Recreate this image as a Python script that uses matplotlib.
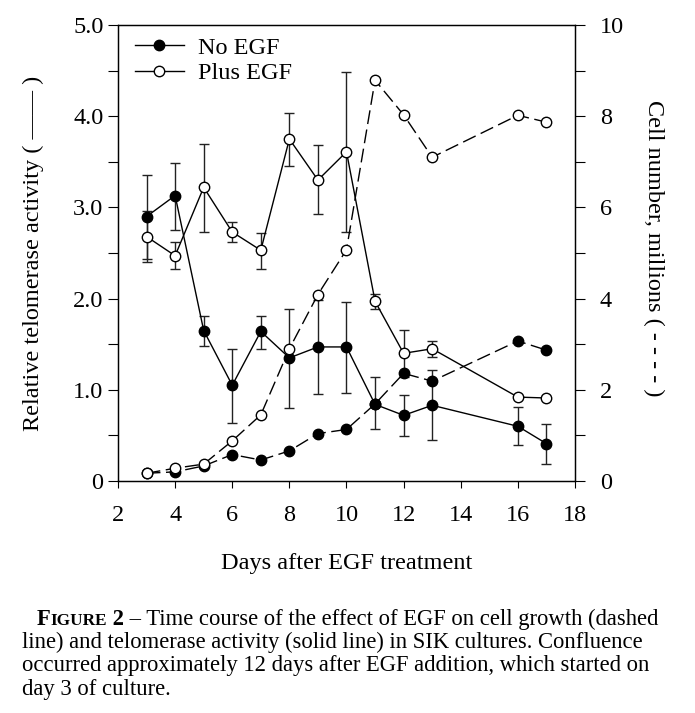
import numpy as np
import matplotlib
matplotlib.use("Agg")
import matplotlib.pyplot as plt
from matplotlib.ticker import MultipleLocator, FuncFormatter
from matplotlib.lines import Line2D

plt.rcParams['font.family'] = ['Liberation Serif', 'DejaVu Serif']

days = [3, 4, 5, 6, 7, 8, 9, 10, 11, 12, 13, 16, 17]

# telomerase activity (left axis), with error bar limits
tel_no = [2.90, 3.13, 1.65, 1.05, 1.64, 1.35, 1.47, 1.47, 0.84, 0.72, 0.83, 0.60, 0.41]
tel_no_hi = [3.35, 3.49, 1.81, 1.45, 1.81, 1.89, 1.99, 1.96, 1.14, 0.94, 1.22, 0.81, 0.62]
tel_no_lo = [2.43, 2.75, 1.48, 0.64, 1.45, 0.80, 0.95, 0.97, 0.57, 0.49, 0.45, 0.39, 0.19]

tel_plus = [2.68, 2.47, 3.22, 2.73, 2.53, 3.75, 3.30, 3.61, 1.97, 1.40, 1.45, 0.92, 0.91]
tel_plus_hi = [2.96, 2.62, 3.70, 2.84, 2.72, 4.04, 3.68, 4.48, 2.05, 1.66, 1.54, 0.92, 0.91]
tel_plus_lo = [2.40, 2.32, 2.73, 2.62, 2.33, 3.45, 2.93, 2.73, 1.89, 1.14, 1.36, 0.92, 0.91]

# cell number, millions (right axis)
cells_no = [0.17, 0.20, 0.33, 0.58, 0.46, 0.66, 1.04, 1.13, 1.69, 2.36, 2.19, 3.07, 2.87]
cells_plus = [0.17, 0.28, 0.37, 0.88, 1.45, 2.90, 4.09, 5.07, 8.79, 8.03, 7.10, 8.02, 7.87]

fs = 17.5
fig = plt.figure(figsize=(6.95, 7.13), dpi=100)
ax = fig.add_axes([0.1698, 0.3254, 0.6575, 0.6395])
ax2 = ax.twinx()

def yerr(v, lo, hi):
    v = np.array(v)
    return [v - np.array(lo), np.array(hi) - v]

ax.errorbar(days, tel_no, yerr=yerr(tel_no, tel_no_lo, tel_no_hi), fmt='none',
            ecolor='#222222', elinewidth=1, capsize=3.5, capthick=1, zorder=1)
ax.errorbar(days, tel_plus, yerr=yerr(tel_plus, tel_plus_lo, tel_plus_hi), fmt='none',
            ecolor='#222222', elinewidth=1, capsize=3.5, capthick=1, zorder=1)
ax.plot(days, tel_no, '-', color='black', lw=1, marker='o', ms=7.5,
        mfc='black', mec='black', zorder=3)
ax.plot(days, tel_plus, '-', color='black', lw=1, marker='o', ms=7.5,
        mfc='white', mec='black', mew=1, zorder=3)

dash = (10, 4)
ax2.plot(days, cells_no, color='black', lw=1, dashes=dash, marker='o', ms=7.5,
         mfc='black', mec='black', zorder=3)
ax2.plot(days, cells_plus, color='black', lw=1, dashes=dash, marker='o', ms=7.5,
         mfc='white', mec='black', mew=1, zorder=3)

ax.set_xlim(2, 18)
ax.set_ylim(0, 5)
ax2.set_ylim(0, 10)
ax.xaxis.set_major_locator(MultipleLocator(2))
ax.yaxis.set_major_locator(MultipleLocator(1))
ax.yaxis.set_minor_locator(MultipleLocator(0.5))
ax2.yaxis.set_major_locator(MultipleLocator(2))
ax2.yaxis.set_minor_locator(MultipleLocator(1))
ax.yaxis.set_major_formatter(FuncFormatter(lambda v, p: '0' if v == 0 else '%.1f' % v))

for a in (ax, ax2):
    a.tick_params(which='both', direction='out', labelsize=fs, width=0.8, length=7)
    for s in a.spines.values():
        s.set_linewidth(0.9)
ax.tick_params(axis='x', pad=12, length=5)
ax.tick_params(axis='y', pad=3.5)
ax2.tick_params(axis='y', pad=11)

ax.set_xlabel('Days after EGF treatment', fontsize=fs, labelpad=20)
ax.set_ylabel('Relative telomerase activity ( \u2014\u2014 )', fontsize=fs, labelpad=21)
ax2.set_ylabel('Cell number, millions ( - - - - )', fontsize=fs, rotation=270)
ax2.yaxis.set_label_coords(1.195, 0.511)

handles = [Line2D([], [], color='black', lw=1, marker='o', ms=7.5, mfc='black', mec='black'),
           Line2D([], [], color='black', lw=1, marker='o', ms=7.5, mfc='white', mec='black')]
ax2.legend(handles, ['No EGF', 'Plus EGF'], loc='upper left', frameon=False,
           fontsize=fs, handlelength=2.0, handletextpad=0.6, labelspacing=0.15,
           borderaxespad=0.3, bbox_to_anchor=(0.0, 1.012))

# caption with small-caps "Figure"
cap_fs = 16.3
W, H = fig.get_size_inches() * fig.dpi
renderer = fig.canvas.get_renderer()
x = 37
y1 = 1 - 625 / H
pieces = [('F', cap_fs, 'bold'), ('IGURE', cap_fs * 0.76, 'bold'),
          (' 2', cap_fs, 'bold'),
          (' \u2013 Time course of the effect of EGF on cell growth (dashed', cap_fs, 'normal')]
for txt, size, weight in pieces:
    t = fig.text(x / W, y1, txt, fontsize=size, fontweight=weight, ha='left', va='baseline')
    ext = t.get_window_extent(renderer)
    x = ext.x1

rest = ['line) and telomerase activity (solid line) in SIK cultures. Confluence',
        'occurred approximately 12 days after EGF addition, which started on',
        'day 3 of culture.']
for i, line in enumerate(rest):
    fig.text(22 / W, 1 - (648 + 23.5 * i) / H, line, fontsize=cap_fs,
             ha='left', va='baseline')

fig.savefig('out.png', dpi=100)
